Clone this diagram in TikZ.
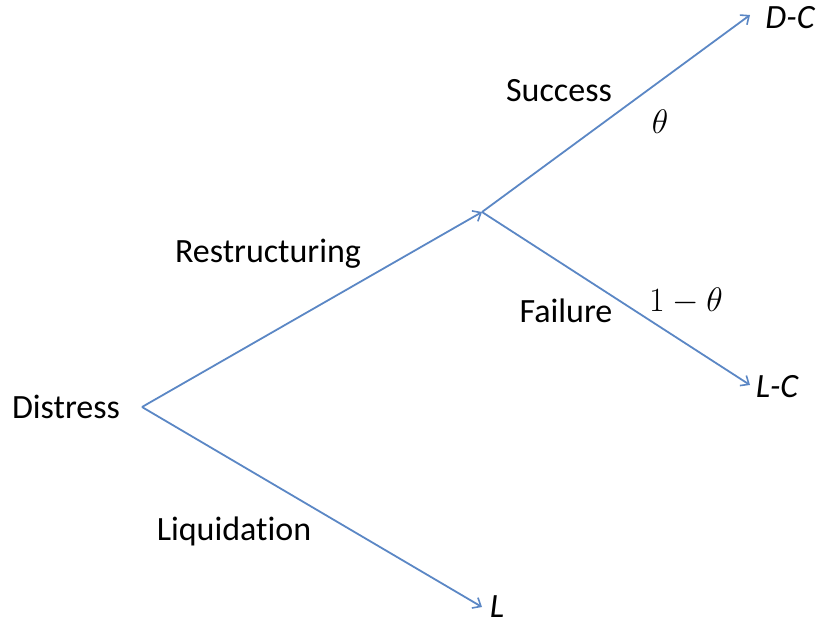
\RequirePackage{fix-cm}
\documentclass[tikz,border=0pt]{standalone}
\usepackage{fontspec}
\setmainfont[Ligatures=NoCommon]{Carlito}
\usetikzlibrary{arrows.meta,positioning}
\definecolor{branch}{HTML}{5B87C5}
\tikzset{>={Straight Barb[length=7pt,width=12pt,line width=1.6pt]},
  every node/.style={font=\fontsize{34}{40}\selectfont,inner sep=0pt},
  edge/.style={->,draw=branch,line width=1.8pt},
  outcome/.style={font=\fontsize{34}{40}\selectfont\itshape}}

\begin{document}
\begin{tikzpicture}[x=1pt,y=-1pt]
\useasboundingbox (0,0) rectangle (819,625);
\node (distress) at (66,407) {Distress};
\coordinate (root) at (142,407);
\coordinate (fork) at (482,212);
\coordinate (dctip) at (750,15);
\coordinate (lctip) at (750,385);
\coordinate (ltip) at (482,607);
\node[outcome] (dc) at (790,18) {D-C};
\node[outcome] (lc) at (777,387) {L-C};
\node[outcome] (l) at (497,607) {L};
\draw[edge] (root)--(fork);
\draw[edge] (fork)--(dctip);
\draw[edge] (fork)--(lctip);
\draw[edge] (root)--(ltip);
\node (restr) at (268,254) {Restructuring};
\node (succ) at (559,91) {Success};
\node (theta) at (660,122) {$\theta$};
\node (fail) at (566,311) {Failure};
\node (ntheta) at (686,301) {$1-\theta$};
\node (liq) at (234,531) {Liquidation};
\end{tikzpicture}
\end{document}
